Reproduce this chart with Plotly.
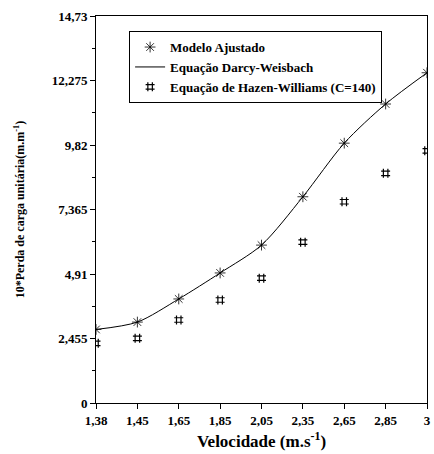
import plotly.graph_objects as go

velocidade = ["1,38", "1,45", "1,65", "1,85", "2,05", "2,35", "2,65", "2,85", "3"]
modelo_ajustado = [2.80, 3.08, 3.96, 4.95, 6.01, 7.85, 9.89, 11.38, 12.57]
darcy_weisbach = [2.80, 3.08, 3.96, 4.95, 6.01, 7.85, 9.89, 11.38, 12.57]
hazen_williams = [2.27, 2.46, 3.16, 3.92, 4.75, 6.12, 7.66, 8.74, 9.60]

y_tickvals = [0, 2.455, 4.91, 7.365, 9.82, 12.275, 14.73]
y_ticktext = ["0", "2,455", "4,91", "7,365", "9,82", "12,275", "14,73"]
y_minor = [1.2275, 3.6825, 6.1375, 8.5925, 11.0475, 13.5025]

FONT = "Liberation Serif"

fig = go.Figure()
fig.add_trace(go.Scatter(
    x=velocidade, y=modelo_ajustado, mode="markers", name="<b>Modelo Ajustado</b>",
    marker=dict(symbol="asterisk-open", size=9, color="black", line=dict(color="black", width=0.8)),
))
fig.add_trace(go.Scatter(
    x=velocidade, y=darcy_weisbach, mode="lines", name="<b>Equação Darcy-Weisbach</b>",
    line=dict(color="black", width=1, shape="spline", smoothing=0.8),
))
fig.add_trace(go.Scatter(
    x=velocidade, y=hazen_williams, mode="markers", name="<b>Equação de Hazen-Williams (C=140)</b>",
    marker=dict(symbol="hash-open", size=9, color="black", line=dict(color="black", width=1.2)),
))

fig.update_layout(
    width=434, height=454,
    margin=dict(l=96, r=3, t=16, b=51),
    plot_bgcolor="white", paper_bgcolor="white",
    font=dict(family=FONT, color="black"),
    legend=dict(
        x=0.10, y=0.961, xanchor="left", yanchor="top",
        bordercolor="black", borderwidth=1, bgcolor="white",
        font=dict(family=FONT, size=13, color="black"),
        itemwidth=30, tracegroupgap=0,
    ),
    xaxis=dict(
        type="category", range=[0, 8],
        tickvals=velocidade, ticktext=[f"<b>{v}</b>" for v in velocidade],
        showline=True, linecolor="black", linewidth=1, mirror=True,
        ticks="outside", ticklen=5, tickcolor="black",
        tickfont=dict(family=FONT, size=13, color="black"),
        showgrid=False, zeroline=False,
        title=dict(text="<b>Velocidade (m.s<sup>-1</sup>)</b>", font=dict(family=FONT, size=17), standoff=8),
    ),
    yaxis=dict(
        range=[0, 14.73],
        tickvals=y_tickvals, ticktext=[f"<b>{t}</b>" for t in y_ticktext],
        showline=True, linecolor="black", linewidth=1, mirror=True,
        ticks="outside", ticklen=5, tickcolor="black",
        minor=dict(tickvals=y_minor, ticks="outside", ticklen=3, tickcolor="black"),
        tickfont=dict(family=FONT, size=13, color="black"),
        showgrid=False, zeroline=False,
        title=dict(text="<b>10*Perda de carga unitária(m.m<sup>-1</sup>)</b>", font=dict(family=FONT, size=12), standoff=24),
    ),
)

fig.write_html("out.html", config={"displayModeBar": False},
               post_script="document.body.style.margin='0';")
